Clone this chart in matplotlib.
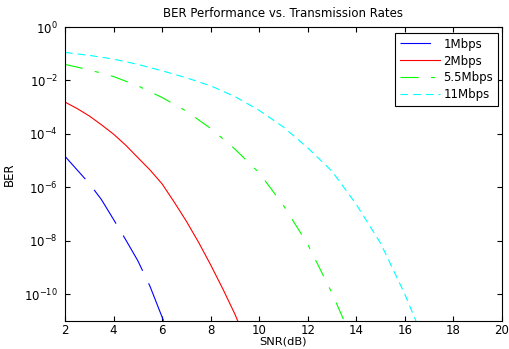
import numpy as np
import matplotlib
matplotlib.use('Agg')
from matplotlib import pyplot as plt

# valores (BER x SNR em dB)
snr_1m = [2, 2.5, 3, 3.5, 4, 4.5, 5, 5.5, 6, 6.2]
ber_1m = [1.45e-5, 4.5e-6, 1.4e-6, 3.5e-7, 6.3e-8, 1.1e-8, 1.8e-9, 2.0e-10, 1.4e-11, 5e-12]

snr_2m = [2, 2.5, 3, 3.5, 4, 4.5, 5, 5.5, 6, 6.5, 7, 7.5, 8, 8.5, 9, 9.14, 9.3]
ber_2m = [1.55e-3, 8.9e-4, 4.7e-4, 2.2e-4, 9.8e-5, 3.8e-5, 1.3e-5, 4.5e-6, 1.35e-6,
          2.8e-7, 5.4e-8, 8.9e-9, 1.26e-9, 1.6e-10, 1.8e-11, 8.9e-12, 3e-12]

snr_55m = [2, 3, 4, 5, 6, 7, 8, 9, 10, 11, 12, 13, 13.5, 13.7]
ber_55m = [3.98e-2, 2.5e-2, 1.4e-2, 6.3e-3, 2.3e-3, 7.1e-4, 1.6e-4, 2.7e-5, 3.5e-6, 2.1e-7, 7.4e-9, 1.1e-10, 1e-11, 4e-12]

snr_11m = [2, 3, 4, 5, 6, 7, 8, 9, 10, 11, 12, 13, 14, 15, 16, 16.5, 16.7]
ber_11m = [1.12e-1, 8.7e-2, 6.3e-2, 4e-2, 2.3e-2, 1.26e-2, 6.3e-3, 2.5e-3, 7.6e-4, 1.8e-4, 3e-5, 4e-6, 2.3e-7, 8.1e-9, 1e-10, 8e-12, 3e-12]

xticks = [2, 4, 6, 8, 10, 12, 14, 16, 18, 20]
yticks = [1e0, 1e-2, 1e-4, 1e-6, 1e-8, 1e-10]

plt.rcParams['font.family'] = ['DejaVu Sans']
plt.rcParams['lines.scale_dashes'] = False
plt.rcParams['mathtext.default'] = 'regular'

fig = plt.figure(figsize=(5.09, 3.49), dpi=100)
ax = fig.add_axes([0.1277, 0.0802, 0.8585, 0.8424])

lw = 0.8
ax.semilogy(snr_1m, ber_1m, color='#0000ff', lw=lw, linestyle=(7, (29, 10)), label='1Mbps')
ax.semilogy(snr_2m, ber_2m, color='#ff0000', lw=lw, linestyle='-', label='2Mbps')
ax.semilogy(snr_55m, ber_55m, color='#00ff00', lw=lw, linestyle=(0, (13, 9, 3, 9)), label='5.5Mbps')
ax.semilogy(snr_11m, ber_11m, color='#00ffff', lw=lw, linestyle=(0, (5.5, 3.6)), label='11Mbps')

ax.set_xlim(2, 20)
ax.set_ylim(1e-11, 1e0)
ax.set_xticks(xticks)
ax.set_yticks(yticks)
ax.minorticks_off()
ax.tick_params(direction='in', top=True, right=True, labelsize=8.5, length=3.5, width=0.8)
ax.tick_params(axis='y', pad=5)
ax.tick_params(axis='x', pad=2.5)
for s in ax.spines.values():
    s.set_linewidth(0.8)

ax.set_title('BER Performance vs. Transmission Rates', fontsize=8.5, pad=7)
ax.set_xlabel('SNR(dB)', fontsize=8.2, labelpad=-1)
ax.set_ylabel('BER', fontsize=8.5, labelpad=6)

leg = ax.legend(loc='upper right', bbox_to_anchor=(0.9908, 0.98), fontsize=8.5,
                fancybox=False, framealpha=1, edgecolor='black',
                handlelength=3.4, borderaxespad=0, labelspacing=0.33,
                handletextpad=0.3, borderpad=0.4)
leg.get_frame().set_linewidth(0.8)

fig.savefig('out.png', dpi=100)
